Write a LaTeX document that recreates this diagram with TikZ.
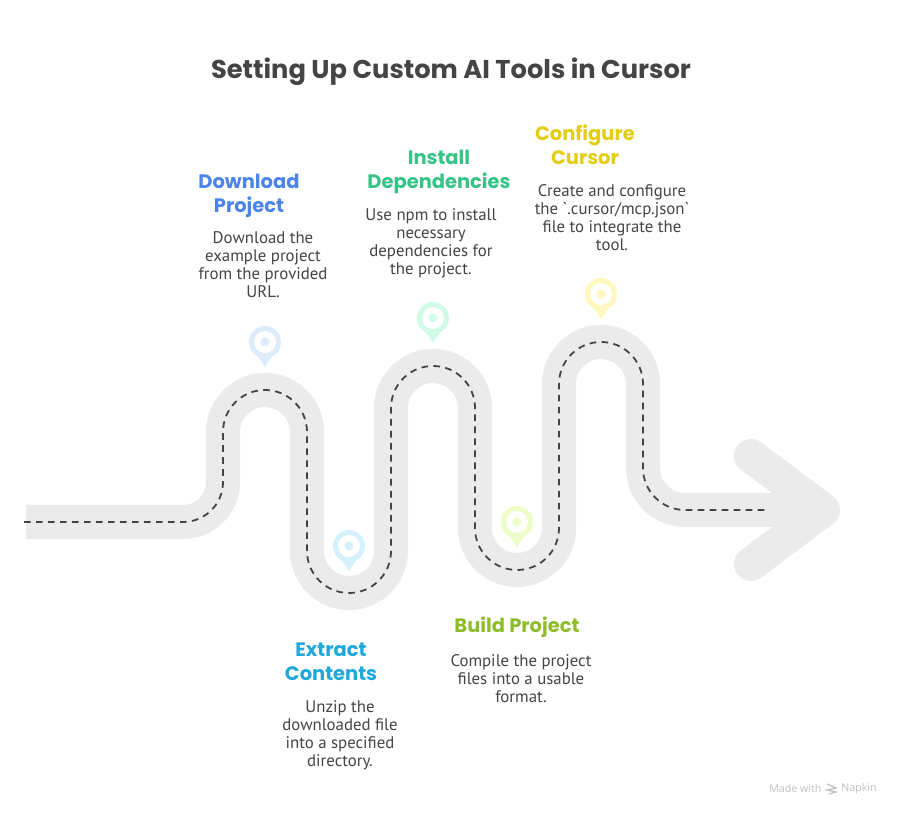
\documentclass[tikz,border=0pt]{standalone}
\usepackage{fontspec}
\setmainfont{PT Sans}
\newfontfamily\bodyfont{PT Sans}
\newfontfamily\headfont{Poppins}
\newfontfamily\markfont{Open Sans}
\usetikzlibrary{positioning}

\definecolor{roadgray}{HTML}{EBEBEB}
\definecolor{inkgray}{HTML}{444444}
\definecolor{stepblue}{HTML}{4C85EA}
\definecolor{stepcyan}{HTML}{1FA8DC}
\definecolor{stepgreen}{HTML}{35C486}
\definecolor{steplime}{HTML}{8FBC2B}
\definecolor{stepyellow}{HTML}{E3CD12}
\definecolor{pinblue}{HTML}{DEEBFD}
\definecolor{pincyan}{HTML}{D4F1FD}
\definecolor{pingreen}{HTML}{CFFBE8}
\definecolor{pinlime}{HTML}{EEFDC8}
\definecolor{pinyellow}{HTML}{FEF7BE}

\tikzset{
    headtext/.style={inner sep=0pt,align=center,font=\headfont\bfseries\fontsize{14.6}{18}\selectfont},
    bodytext/.style={inner sep=0pt,align=center,text=inkgray,font=\bodyfont\fontsize{12.6}{13.5}\selectfont},
    marktext/.style={inner sep=0pt,text=black!25,font=\markfont\fontsize{8}{10}\selectfont},
    pics/mappin/.style={code={
        \fill[#1] (-10,-10) -- (0,-25) -- (10,-10) -- cycle;
        \fill[#1] (0,0) circle (16);
        \fill[white] (0,0) circle (11);
        \fill[#1] (0,0) circle (4.5);
    }}
}

\begin{document}
\begin{tikzpicture}[x=0.75pt,y=0.75pt,yscale=-1,xscale=1]
    \useasboundingbox (0,0) rectangle (901,816);

    % Road
    \draw[roadgray,line width=25.5pt] (26,522) -- (183,522) arc (90:0:40) -- (223,432)
        arc (180:360:42) -- (307,551) arc (180:0:42) -- (391,408)
        arc (180:360:42) -- (475,528) arc (180:0:42) -- (559,384)
        arc (180:360:42) -- (643,468) arc (180:90:42) -- (815,510);
    % Arrow head
    \draw[roadgray,line width=25.5pt,line cap=round,line join=round] (751,456) -- (823,510) -- (751,564);
    % Centre line
    \draw[inkgray,line width=1.35pt,dash pattern=on 5pt off 4pt] (24,522) -- (183,522) arc (90:0:40) -- (223,432)
        arc (180:360:42) -- (307,551) arc (180:0:42) -- (391,408)
        arc (180:360:42) -- (475,528) arc (180:0:42) -- (559,384)
        arc (180:360:42) -- (643,468) arc (180:90:42) -- (765,510);

    % Pins
    \pic at (265,342) {mappin=pinblue};
    \pic at (349,546) {mappin=pincyan};
    \pic at (433,318) {mappin=pingreen};
    \pic at (517,522) {mappin=pinlime};
    \pic at (601,294) {mappin=pinyellow};

    % Text Node
    \node[inner sep=0pt,text=inkgray,font=\headfont\bfseries\fontsize{19.3}{24}\selectfont] (title) at (451,72) {Setting Up Custom AI Tools in Cursor};

    % Text Node
    \node[headtext,text=stepblue] (downloadhead) at (249,196) {Download\\Project};
    \node[bodytext] (downloadbody) at (263,265) {Download the\\example project\\from the provided\\URL.};
    % Text Node
    \node[headtext,text=stepcyan] (extracthead) at (331,662) {Extract\\Contents};
    \node[bodytext] (extractbody) at (340,735) {Unzip the\\downloaded file\\into a specified\\directory.};
    % Text Node
    \node[headtext,text=stepgreen] (installhead) at (439,172) {Install\\Dependencies};
    \node[bodytext] (installbody) at (431,243) {Use npm to install\\necessary\\dependencies for\\the project.};
    % Text Node
    \node[headtext,text=steplime] (buildhead) at (517,627) {Build Project};
    \node[bodytext] (buildbody) at (521,679) {Compile the project\\files into a usable\\format.};
    % Text Node
    \node[headtext,text=stepyellow] (confighead) at (585,145) {Configure\\Cursor};
    \node[bodytext] (configbody) at (612,218) {Create and configure\\the `.cursor/mcp.json`\\file to integrate the\\tool.};

    % Text Node
    \node[marktext,anchor=west] (madewith) at (769,788.5) {Made with};
    \node[marktext,anchor=west] (napkin) at (841,788.5) {Napkin};
    % Napkin mark
    \draw[black!25,line width=0.9pt] (827,784) -- (836,788) -- (827,790) -- (836,792) -- (829,794);
\end{tikzpicture}
\end{document}
